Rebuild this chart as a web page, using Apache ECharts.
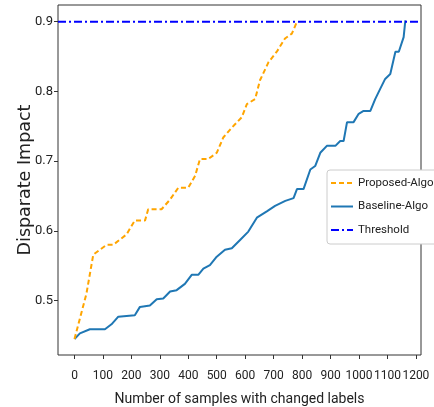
<!DOCTYPE html>
<html>
<head>
<meta charset="utf-8">
<script src="https://cdn.jsdelivr.net/npm/echarts@6/dist/echarts.min.js"></script>
<style>
html,body{margin:0;padding:0;background:#fff;}
#chart{width:434px;height:407px;}
</style>
</head>
<body>
<div id="chart"></div>
<script>
// Data
const proposedX = [0, 42, 66, 113, 136, 183, 212, 248, 259, 306, 336, 365, 400, 424, 441, 470, 500, 523, 553, 588, 606, 635, 652, 682, 711, 740, 764, 782];
const proposedY = [0.445, 0.510, 0.566, 0.580, 0.580, 0.595, 0.615, 0.615, 0.631, 0.631, 0.645, 0.662, 0.662, 0.679, 0.703, 0.703, 0.712, 0.734, 0.748, 0.763, 0.782, 0.789, 0.816, 0.842, 0.857, 0.876, 0.883, 0.900];

const baselineX = [0, 19, 54, 107, 130, 154, 212, 230, 265, 289, 312, 336, 359, 388, 412, 435, 453, 476, 500, 529, 553, 582, 611, 641, 676, 705, 741, 770, 782, 805, 829, 846, 864, 887, 917, 934, 946, 958, 981, 999, 1016, 1040, 1057, 1075, 1092, 1110, 1128, 1140, 1157, 1163];
const baselineY = [0.445, 0.453, 0.459, 0.459, 0.466, 0.477, 0.479, 0.491, 0.493, 0.502, 0.503, 0.513, 0.515, 0.524, 0.537, 0.537, 0.546, 0.551, 0.563, 0.573, 0.575, 0.587, 0.599, 0.619, 0.628, 0.636, 0.643, 0.647, 0.660, 0.660, 0.688, 0.693, 0.712, 0.722, 0.722, 0.729, 0.729, 0.756, 0.756, 0.768, 0.772, 0.772, 0.789, 0.804, 0.818, 0.825, 0.857, 0.857, 0.878, 0.902];

const thresholdValue = 0.9;
const xTicks = [0, 100, 200, 300, 400, 500, 600, 700, 800, 900, 1000, 1100, 1200];
const yTicks = [0.5, 0.6, 0.7, 0.8, 0.9];
const xRange = [-58, 1218];
const yRange = [0.422, 0.924];

const seriesNames = ['Proposed-Algo', 'Baseline-Algo', 'Threshold'];
const xLabel = 'Number of samples with changed labels';
const yLabel = 'Disparate Impact';

const zip = (xs, ys) => xs.map((x, i) => [x, ys[i]]);
const narrow = "Roboto,'Liberation Sans',sans-serif";

const chart = echarts.init(document.getElementById('chart'), null, {renderer: 'canvas'});
chart.setOption({
  animation: false,
  backgroundColor: '#fff',
  grid: {left: 58, top: 5, right: 13, bottom: 52, show: true, borderColor: '#333', borderWidth: 1,
    backgroundColor: 'transparent', containLabel: false, outerBoundsMode: 'none'},
  xAxis: {
    type: 'value', min: xRange[0], max: xRange[1],
    axisLine: {show: false, onZero: false},
    splitLine: {show: false},
    axisTick: {show: true, inside: false, length: 4, lineStyle: {color: '#333'}, customValues: xTicks},
    axisLabel: {customValues: xTicks, color: '#222', fontFamily: narrow, fontSize: 12, margin: 15,
      hideOverlap: false, showMinLabel: true, showMaxLabel: true,
      formatter: v => String(v)},
    name: xLabel, nameLocation: 'middle', nameGap: 37, nameMoveOverlap: false,
    nameTextStyle: {fontFamily: narrow, fontSize: 14, color: '#222'}
  },
  yAxis: {
    type: 'value', min: yRange[0], max: yRange[1],
    axisLine: {show: false, onZero: false},
    splitLine: {show: false},
    axisTick: {show: true, inside: false, length: 4, lineStyle: {color: '#333'}, customValues: yTicks},
    axisLabel: {customValues: yTicks, color: '#222', fontFamily: narrow, fontSize: 13, margin: 5,
      formatter: v => v.toFixed(1)},
    name: yLabel, nameLocation: 'middle', nameGap: 24, nameMoveOverlap: false,
    nameTextStyle: {fontFamily: "'DejaVu Sans',sans-serif", fontSize: 17.5, color: '#222'}
  },
  legend: {
    orient: 'vertical', left: 327, top: 170,
    data: seriesNames,
    itemWidth: 22, itemHeight: 10, itemGap: 11.5,
    padding: [7, 6, 8, 3],
    backgroundColor: '#fff', borderColor: '#ccc', borderWidth: 1, borderRadius: 3,
    itemStyle: {color: 'rgba(0,0,0,0)', borderColor: 'rgba(0,0,0,0)', borderWidth: 0, opacity: 0},
    textStyle: {fontFamily: narrow, fontSize: 11.5, color: '#222'}
  },
  series: [
    {
      name: seriesNames[0], type: 'line', data: zip(proposedX, proposedY),
      showSymbol: false, symbol: 'none',
      lineStyle: {color: '#ffa500', width: 2, type: [5, 3]},
      itemStyle: {color: '#ffa500'}, z: 3
    },
    {
      name: seriesNames[1], type: 'line', data: zip(baselineX, baselineY),
      showSymbol: false, symbol: 'none',
      lineStyle: {color: '#1f77b4', width: 2},
      itemStyle: {color: '#1f77b4'}, z: 2
    },
    {
      name: seriesNames[2], type: 'line', data: [[xRange[0], thresholdValue], [xRange[1], thresholdValue]],
      showSymbol: false, symbol: 'none',
      lineStyle: {color: '#0000ff', width: 2, type: [8, 3, 2, 3]},
      itemStyle: {color: '#0000ff'}, z: 4
    }
  ]
});
</script>
</body>
</html>
